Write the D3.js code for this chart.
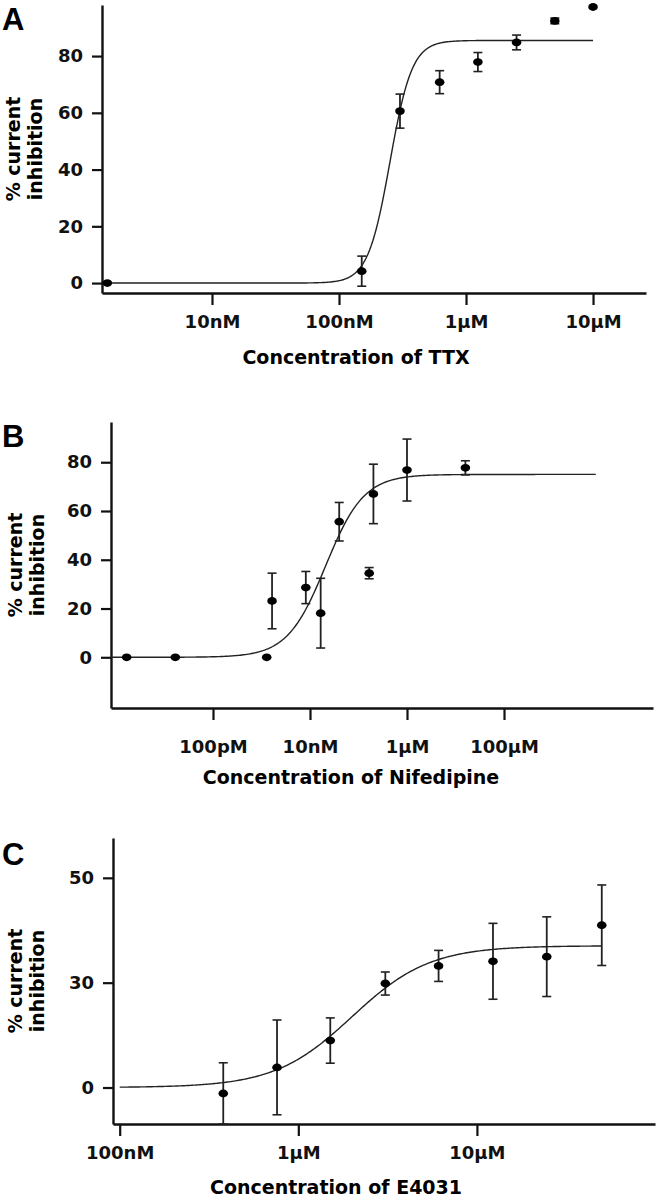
<!DOCTYPE html>
<html>
<head>
<meta charset="utf-8">
<script src="https://cdn.jsdelivr.net/npm/d3@7"></script>
<style>
  body { margin: 0; background: #fff; }
  svg text { font-family: "DejaVu Sans", Verdana, sans-serif; font-weight: bold; }
</style>
</head>
<body>
<div class="chart"></div>
<script>
// panel A - TTX
var ttxConc   = [1.5e-9, 1.51e-7, 3.02e-7, 6.2e-7, 1.24e-6, 2.5e-6, 5e-6, 1e-5];
var ttxInhib  = [0, 4.2, 60.6, 70.8, 77.9, 84.8, 92.4, 97.3];
var ttxErr    = [0, 5.3, 6.0, 4.05, 3.35, 2.6, 1.0, 0];
var ttxFit    = [0, 85.5, 2.52e-7, 5];          // bottom, top, EC50, hill
var ttxXTicks = [1e-8, 1e-7, 1e-6, 1e-5];
var ttxXLabels = ["10nM", "100nM", "1\u00b5M", "10\u00b5M"];
var ttxYTicks = [0, 20, 40, 60, 80];
var ttxYLabels = ["0", "20", "40", "60", "80"];

// panel B - Nifedipine
var nifConc   = [1.66e-12, 1.67e-11, 1.28e-9, 1.65e-9, 8.2e-9, 1.66e-8, 4.0e-8, 1.66e-7, 2.03e-7, 1e-6, 1.6e-5];
var nifInhib  = [0, 0, 0, 23.1, 28.6, 18.1, 55.6, 34.5, 67.0, 76.8, 77.7];
var nifErr    = [0, 0, 0, 11.4, 6.6, 14.3, 7.9, 2.3, 12.2, 12.7, 2.9];
var nifFit    = [0, 75, 2.1e-8, 1.1];
var nifXTicks = [1e-10, 1e-8, 1e-6, 1e-4];
var nifXLabels = ["100pM", "10nM", "1\u00b5M", "100\u00b5M"];
var nifYTicks = [0, 20, 40, 60, 80];
var nifYLabels = ["0", "20", "40", "60", "80"];

// panel C - E4031
var e4Conc    = [3.8e-7, 7.6e-7, 1.51e-6, 3.07e-6, 6.1e-6, 1.23e-5, 2.46e-5, 5e-5];
var e4Inhib   = [-1.4, 4.8, 11.2, 24.8, 29.0, 30.1, 31.2, 38.7];
var e4Err     = [7.3, 11.3, 5.4, 2.75, 3.7, 9.05, 9.5, 9.6];
var e4Fit     = [0, 33.8, 2.0e-6, 2];
var e4XTicks  = [1e-7, 1e-6, 1e-5];
var e4XLabels = ["100nM", "1\u00b5M", "10\u00b5M"];
var e4YTicks  = [0, 25, 50];
var e4YLabels = ["0", "30", "50"];

var width = 660, height = 1197;

var svg = d3.select(".chart").append("svg")
            .attr("width", width)
            .attr("height", height);

var hill = function(fit, c){
  return fit[0] + (fit[1] - fit[0]) / (1 + Math.pow(fit[2] / c, fit[3]));
}

var drawPanel = function(p){
  var g = svg.append("g");

  var x = d3.scaleLog().domain(p.xDomain).range([p.left, p.right]);
  var y = d3.scaleLinear().domain(p.yDomain).range([p.bottom, p.top]);

  // axes
  var xAxis = d3.axisBottom(x).tickValues(p.xTicks)
                .tickFormat(function(d, i){ return p.xLabels[i]; })
                .tickSizeInner(12).tickSizeOuter(0).tickPadding(p.xPad);
  var yAxis = d3.axisLeft(y).tickValues(p.yTicks)
                .tickFormat(function(d, i){ return p.yLabels[i]; })
                .tickSizeInner(10).tickSizeOuter(0).tickPadding(9);

  var gx = g.append("g").attr("transform", "translate(0," + p.bottom + ")").call(xAxis);
  var gy = g.append("g").attr("transform", "translate(" + p.left + ",0)").call(yAxis);
  [gx, gy].forEach(function(a){
    a.select(".domain").attr("stroke", "#111").attr("stroke-width", 2.4);
    a.selectAll(".tick line").attr("stroke", "#111").attr("stroke-width", 2.2);
    a.selectAll(".tick text").attr("fill", "#111")
     .style("font-size", "18px").style("font-family", "DejaVu Sans").style("font-weight", "bold");
  });

  // fit curve
  var xs = d3.range(0, 301).map(function(i){
    var lo = Math.log10(p.curve[0]), hi = Math.log10(p.curve[1]);
    return Math.pow(10, lo + (hi - lo) * i / 300);
  });
  var line = d3.line()
               .x(function(c){ return x(c); })
               .y(function(c){ return y(hill(p.fit, c)); });
  g.append("path").datum(xs).attr("d", line)
   .attr("fill", "none").attr("stroke", "#222").attr("stroke-width", 1.4);

  // error bars
  var pts = p.conc.map(function(c, i){ return {c: c, v: p.inhib[i], e: p.err[i]}; });
  var bars = g.selectAll(".err").data(pts.filter(function(d){ return d.e > 0; }))
              .enter().append("g").attr("class", "err");
  bars.append("line")
      .attr("x1", function(d){ return x(d.c); }).attr("x2", function(d){ return x(d.c); })
      .attr("y1", function(d){ return y(d.v - d.e); }).attr("y2", function(d){ return y(d.v + d.e); })
      .attr("stroke", "#222").attr("stroke-width", 1.8);
  [1, -1].forEach(function(s){
    bars.append("line")
        .attr("x1", function(d){ return x(d.c) - 4.5; }).attr("x2", function(d){ return x(d.c) + 4.5; })
        .attr("y1", function(d){ return y(d.v + s * d.e); }).attr("y2", function(d){ return y(d.v + s * d.e); })
        .attr("stroke", "#222").attr("stroke-width", 1.6);
  });

  // points
  g.selectAll(".pt").data(pts).enter().append("ellipse").attr("class", "pt")
   .attr("cx", function(d){ return x(d.c); })
   .attr("cy", function(d){ return y(d.v); })
   .attr("rx", 4.8).attr("ry", 3.9).attr("fill", "#000");

  // labels
  g.append("text").text(p.letter)
   .attr("x", 2).attr("y", p.top + p.letterDy)
   .style("font-family", "Liberation Sans, Arial, sans-serif").style("font-size", "31px");

  var yl = g.append("text")
            .attr("transform", "translate(" + p.yLabelX + "," + ((p.top + p.bottom) / 2) + ") rotate(-90)")
            .attr("text-anchor", "middle").style("font-size", "19px");
  yl.append("tspan").attr("x", 0).attr("dy", 0).text("% current");
  yl.append("tspan").attr("x", 0).attr("dy", "1.15em").text("inhibition");

  g.append("text").text(p.title)
   .attr("x", p.titleX).attr("y", p.bottom + p.titleDy)
   .attr("text-anchor", "middle").style("font-size", "19px");
}

drawPanel({
  letter: "A", letterDy: 25, title: "Concentration of TTX", titleX: 356, titleDy: 71,
  conc: ttxConc, inhib: ttxInhib, err: ttxErr, fit: ttxFit, curve: [1.5e-9, 1e-5],
  xTicks: ttxXTicks, xLabels: ttxXLabels, yTicks: ttxYTicks, yLabels: ttxYLabels,
  xDomain: [Math.pow(10, -8.866), Math.pow(10, -4.583)], yDomain: [-3.5, 98],
  left: 102, right: 646, top: 5, bottom: 293, xPad: 10, yLabelX: 20
});

drawPanel({
  letter: "B", letterDy: 25, title: "Concentration of Nifedipine", titleX: 351, titleDy: 76,
  conc: nifConc, inhib: nifInhib, err: nifErr, fit: nifFit, curve: [Math.pow(10, -12.103), 7.8e-3],
  xTicks: nifXTicks, xLabels: nifXLabels, yTicks: nifYTicks, yLabels: nifYLabels,
  xDomain: [Math.pow(10, -12.103), Math.pow(10, -0.928)], yDomain: [-20.8, 96.5],
  left: 111, right: 653, top: 422, bottom: 708, xPad: 20, yLabelX: 22
});

drawPanel({
  letter: "C", letterDy: 27, title: "Concentration of E4031", titleX: 336, titleDy: 70,
  conc: e4Conc, inhib: e4Inhib, err: e4Err, fit: e4Fit, curve: [1e-7, 5e-5],
  xTicks: e4XTicks, xLabels: e4XLabels, yTicks: e4YTicks, yLabels: e4YLabels,
  xDomain: [Math.pow(10, -7.0375), Math.pow(10, -4.003)], yDomain: [-8.7, 59.5],
  left: 113, right: 655, top: 838, bottom: 1124, xPad: 10, yLabelX: 22
});
</script>
</body>
</html>
